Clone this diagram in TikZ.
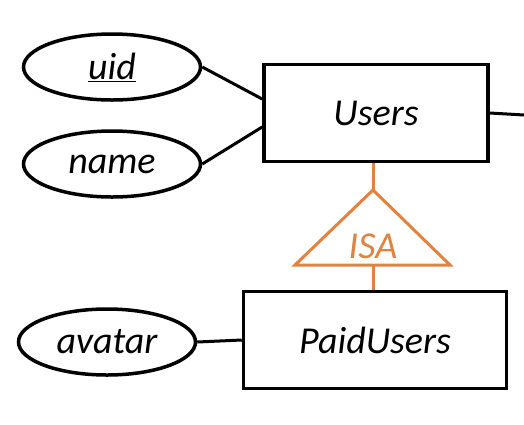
\documentclass[tikz,border=0pt]{standalone}
\usepackage{fontspec}
\setmainfont{Carlito}
\usetikzlibrary{shapes.geometric}
\definecolor{isaorange}{RGB}{225,130,65}

\begin{document}
\begin{tikzpicture}[
  x=1pt, y=-1pt,
  er_text/.style={font=\fontsize{38}{40}\selectfont\itshape},
  entity_box/.style={er_text, draw, rectangle, line width=3.5pt, inner sep=0pt},
  attr_oval/.style={er_text, draw, ellipse, line width=3.5pt, inner sep=0pt},
  er_link/.style={line width=3pt},
  isa_link/.style={line width=3pt, draw=isaorange},
]
\useasboundingbox (0,0) rectangle (524,424);
\draw (376,113) node (users) [entity_box, minimum width=224pt, minimum height=97pt] {Users};
\draw (375,340) node (paid) [entity_box, minimum width=263pt, minimum height=97pt] {PaidUsers};
\draw (112,67) node (uid) [attr_oval, minimum width=177pt, minimum height=66pt] {\underline{uid}};
\draw (112,164) node (name) [attr_oval, minimum width=177pt, minimum height=66pt] {name};
\draw (107,342) node (avatar) [attr_oval, minimum width=177pt, minimum height=66pt] {avatar};
\coordinate (users_out) at (524,115);
\coordinate (isa_top) at (373,190);
\coordinate (isa_left) at (295,265);
\coordinate (isa_right) at (450,265);
\coordinate (isa_base) at (373,265);
\draw [isa_link, line join=miter] (isa_top) -- (isa_left) -- (isa_right) -- cycle;
\draw (373,246) node (isa) [er_text, text=isaorange, inner sep=0pt] {ISA};
\draw [er_link] (uid.east) -- (users.173);
\draw [er_link] (name.east) -- (users.187);
\draw [er_link] (users.east) -- (users_out);
\draw [er_link] (avatar.east) -- (paid.west);
\draw [isa_link] (isa_top |- users.south) -- (isa_top);
\draw [isa_link] (isa_base) -- (isa_base |- paid.north);
\end{tikzpicture}
\end{document}
